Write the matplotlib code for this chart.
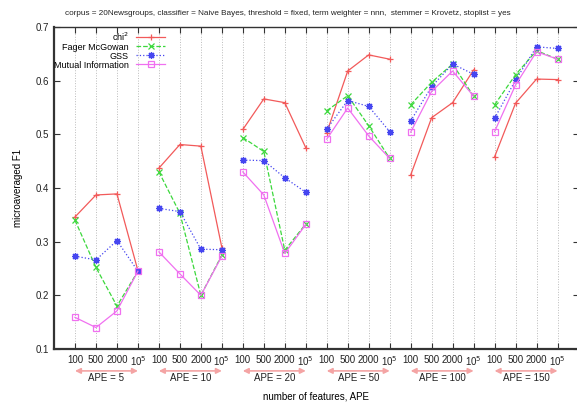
import matplotlib
matplotlib.use("Agg")
import matplotlib.pyplot as plt

plt.rcParams["font.family"] = ["Liberation Sans", "DejaVu Sans"]

# feature counts inside each APE group, and the APE groups
feature_labels = ["100", "500", "2000", "10$^5$"]
ape_groups = ["APE = 5", "APE = 10", "APE = 20", "APE = 50", "APE = 100", "APE = 150"]

# microaveraged F1, 4 values per APE group, in group order
chi2 = [0.346, 0.387, 0.389, 0.246,
        0.437, 0.481, 0.478, 0.289,
        0.509, 0.566, 0.559, 0.475,
        0.503, 0.618, 0.648, 0.640,
        0.424, 0.531, 0.559, 0.620,
        0.458, 0.558, 0.603, 0.602]
fager = [0.340, 0.252, 0.180, 0.245,
         0.430, 0.353, 0.200, 0.275,
         0.494, 0.468, 0.284, 0.333,
         0.544, 0.572, 0.516, 0.455,
         0.555, 0.597, 0.631, 0.571,
         0.555, 0.611, 0.656, 0.640]
gss = [0.273, 0.266, 0.302, 0.245,
       0.362, 0.356, 0.286, 0.285,
       0.452, 0.451, 0.419, 0.392,
       0.510, 0.563, 0.552, 0.505,
       0.525, 0.589, 0.631, 0.612,
       0.530, 0.601, 0.663, 0.660]
mutual = [0.159, 0.140, 0.171, 0.245,
          0.281, 0.240, 0.200, 0.273,
          0.430, 0.387, 0.278, 0.332,
          0.491, 0.549, 0.497, 0.455,
          0.504, 0.580, 0.618, 0.571,
          0.505, 0.592, 0.654, 0.640]

n_feat = len(feature_labels)
xs = list(range(1, n_feat * len(ape_groups) + 1))

fig = plt.figure(figsize=(5.77, 4.07), dpi=100)
ax = fig.add_axes([0.0936, 0.1425, 0.909, 0.7912])

series = [
    ("chi$^2$", chi2, "#f25a5a", "-", "+", "none"),
    ("Fager McGowan", fager, "#3cd83c", "--", "x", "none"),
    ("GSS", gss, "#4646f0", ":", (8, 2, 0), "none"),
    ("Mutual Information", mutual, "#f070f0", "-", "s", "none"),
]
for label, vals, color, ls, marker, mfc in series:
    for g in range(len(ape_groups)):
        sl = slice(g * n_feat, (g + 1) * n_feat)
        ax.plot(xs[sl], vals[sl], color=color, ls=ls, lw=0.9, marker=marker,
                ms=5, mew=0.9, mfc=mfc, label=label if g == 0 else None)

ax.set_xlim(0, 25)
ax.set_ylim(0.1, 0.7)
ax.set_xticks(xs)
ax.set_xticklabels(feature_labels * len(ape_groups), fontsize=7)
ax.set_yticks([0.1, 0.2, 0.3, 0.4, 0.5, 0.6, 0.7])
ax.set_yticklabels(["0.1", "0.2", "0.3", "0.4", "0.5", "0.6", "0.7"], fontsize=7)
ax.tick_params(axis="both", direction="in", length=4, width=0.8, colors="#333333",
               top=True, right=True, labelcolor="#222222")
ax.tick_params(axis="x", pad=4)
ax.grid(axis="x", ls=":", color="#bbbbbb", lw=0.7)

for side in ["left", "bottom", "top", "right"]:
    ax.spines[side].set_color("#333333")
    ax.spines[side].set_linewidth(1.0)
ax.spines["left"].set_linewidth(1.6)
ax.spines["bottom"].set_linewidth(1.6)

# APE group arrows below the ticks
for g, name in enumerate(ape_groups):
    x0 = xs[g * n_feat]
    x1 = xs[g * n_feat + n_feat - 1]
    ax.annotate("", xy=(x0, -0.068), xytext=(x1, -0.068),
                xycoords=("data", "axes fraction"), textcoords=("data", "axes fraction"),
                arrowprops=dict(arrowstyle="<|-|>", color="#f4a4a4", lw=1.2,
                                mutation_scale=8, shrinkA=0, shrinkB=0),
                annotation_clip=False)
    ax.text((x0 + x1) / 2, -0.090, name, transform=ax.get_xaxis_transform(),
            ha="center", va="center", fontsize=7, color="#222222")

ax.set_xlabel("number of features, APE", fontsize=7, labelpad=17)
ax.set_ylabel("microaveraged F1", fontsize=7, labelpad=9)
fig.text(0.499, 0.968, "corpus = 20Newsgroups, classifier = Naive Bayes, threshold = fixed, "
         "term weighter = nnn,  stemmer = Krovetz, stoplist = yes",
         ha="center", va="center", fontsize=5.9, color="#222222")

leg = ax.legend(loc="upper right", bbox_to_anchor=(0.2116, 0.99), frameon=False,
                markerfirst=False, fontsize=6.5, handlelength=3.2, handletextpad=0.8,
                labelspacing=0.0, borderaxespad=0.0, borderpad=0.0)

fig.savefig("out.png", dpi=100)
